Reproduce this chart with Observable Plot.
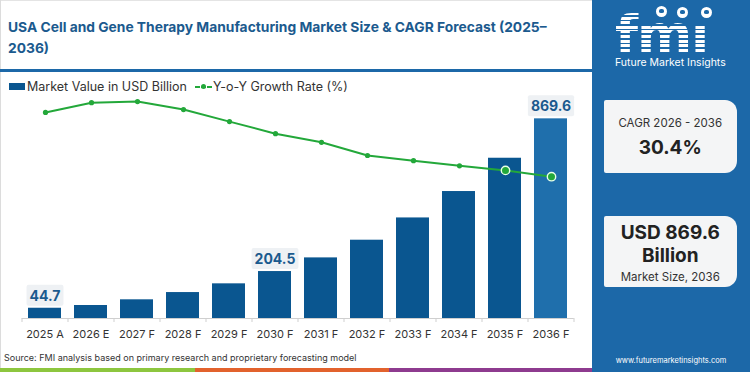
<!DOCTYPE html>
<html>
<head>
<meta charset="utf-8">
<script src="https://cdn.jsdelivr.net/npm/d3@7"></script>
<script src="https://cdn.jsdelivr.net/npm/@observablehq/plot@0.6"></script>
<style>
  @font-face { font-family: "FmiLogo"; src: local("DejaVu Sans Bold"), local("DejaVuSans-Bold"); font-weight: 700;
               ascent-override: 78%; descent-override: 2%; line-gap-override: 0%; }
  html, body { margin: 0; padding: 0; background: #fff; }
  body { width: 750px; height: 372px; position: relative; overflow: hidden; font-family: Inter, "Open Sans", sans-serif; color: #333; }
  .abs { position: absolute; }
  #title { left: 8px; top: 17px; width: 580px; font-size: 13.8px; font-weight: 700; color: #1b5a8e; line-height: 21px; white-space: nowrap; }
  #sep { left: 0; top: 69px; width: 592px; height: 2.5px; background: #1c68a8; }
  #lborder { left: 0; top: 0; width: 1px; height: 368px; background: #dcdcdc; }
  #tborder { left: 0; top: 0; width: 592px; height: 1px; background: #e4e4e4; }
  #legend { left: 9px; top: 79px; font-size: 12.5px; color: #333; display: flex; align-items: center; white-space: nowrap; }
  .sw { width: 16px; height: 7px; background: #0a5690; margin-right: 2px; }
  .ln { position: relative; width: 17px; height: 10px; margin-left: 8px; margin-right: 1px; }
  .ln:before { content: ""; position: absolute; left: 0; right: 0; top: 4px; height: 2px; background: repeating-linear-gradient(to right, #23a83a 0 5px, transparent 5px 6px); }
  .ln:after { content: ""; position: absolute; left: 6px; top: 2.5px; width: 5px; height: 5px; border-radius: 50%; background: #23a83a; }
  #chart, #line { left: 0; top: 75px; }
  #source { left: 4px; top: 352px; font-size: 9px; color: #333; white-space: nowrap; }
  .stripe { top: 368px; height: 4px; }
  #panel { left: 592px; top: 0; width: 158px; height: 372px; background: #1c68a8; }
  .box { position: absolute; left: 11.5px; width: 133.5px; background: #f4f5f6; border-radius: 2px 12px 12px 2px; text-align: center; color: #222; }
  #logo { left: 23px; top: 12px; font-family: "FmiLogo", "DejaVu Sans", sans-serif; font-weight: 700; font-size: 52.6px; line-height: normal; letter-spacing: -1px; white-space: nowrap;
          background: repeating-linear-gradient(to bottom, #fff 0 3px, transparent 3px 4.6px); -webkit-background-clip: text; background-clip: text; color: transparent; }
  .globe { position: absolute; width: 11px; height: 11px; border-radius: 50%; background: #fff; }
  .globe:after { content: ""; position: absolute; left: 3px; top: 3px; width: 5px; height: 4px; border-radius: 40%; background: #1c68a8; }
  #fmiName { left: 23px; top: 56px; font-size: 10.5px; color: #fff; white-space: nowrap; }
  #web { left: 0; width: 158px; top: 356px; font-size: 7.5px; color: #fff; text-align: center; }
</style>
</head>
<body>
<div id="tborder" class="abs"></div>
<div id="lborder" class="abs"></div>
<div id="title" class="abs">USA Cell and Gene Therapy Manufacturing Market Size &amp; CAGR Forecast (2025–<br>2036)</div>
<div id="sep" class="abs"></div>
<div id="legend" class="abs"><div class="sw"></div><span>Market Value in USD Billion</span><div class="ln"></div><span>Y-o-Y Growth Rate (%)</span></div>
<div id="chart" class="abs"></div>
<div id="line" class="abs"></div>
<div id="source" class="abs">Source: FMI analysis based on primary research and proprietary forecasting model</div>
<div class="abs stripe" style="left:0;width:195px;background:#8dc63f"></div>
<div class="abs stripe" style="left:195px;width:194px;background:#e2622d"></div>
<div class="abs stripe" style="left:389px;width:203px;background:#8e3b8f"></div>
<div id="panel" class="abs">
  <div id="logo" class="abs">fmı</div>
  <div class="globe" style="left:64px;top:6px"></div>
  <div class="globe" style="left:85px;top:7px"></div>
  <div class="globe" style="left:109px;top:7px"></div>
  <div id="fmiName" class="abs">Future Market Insights</div>
  <div class="box" style="top:100px;height:73px">
    <div style="position:absolute;left:0;right:0;top:16px;font-size:11.5px;color:#333">CAGR 2026 - 2036</div>
    <div style="position:absolute;left:0;right:0;top:36px;font-size:19px;font-weight:700">30.4%</div>
  </div>
  <div class="box" style="top:216px;height:71px">
    <div style="position:absolute;left:0;right:0;top:5px;font-size:19px;font-weight:700;line-height:23px">USD 869.6<br>Billion</div>
    <div style="position:absolute;left:0;right:0;top:54px;font-size:11.5px;color:#333">Market Size, 2036</div>
  </div>
  <div id="web" class="abs">www.futuremarketinsights.com</div>
</div>

<script>
// ---- data ----
const years = ["2025 A","2026 E","2027 F","2028 F","2029 F","2030 F","2031 F","2032 F","2033 F","2034 F","2035 F","2036 F"];
const marketValue = [44.7, 56.6, 81.4, 113, 151, 204.5, 264, 341, 438, 553, 698, 869.6];
const growthRate = [35.9, 37.6, 37.8, 36.4, 34.3, 32.2, 30.7, 28.4, 27.5, 26.6, 25.8, 24.7];
const labeledYears = ["2025 A", "2030 F", "2036 F"];

const rows = years.map((y, i) => ({year: y, value: marketValue[i], growth: growthRate[i], i}));

// ---- layout ----
const W = 592, H = 275, ML = 21.7, MR = 18.3, MT = 13.4, MB = 32;
const dark = "#0a5690", light = "#1f6fac", green = "#23a83a";
const xOpts = {domain: years, paddingInner: 0.28, paddingOuter: 0.14, label: null};
const step = d3.scaleBand().domain(years).range([ML, W - MR]).paddingInner(0.28).paddingOuter(0.14).step();

const bars = Plot.plot({
  width: W, height: H, marginLeft: ML, marginRight: MR, marginTop: MT, marginBottom: MB,
  style: {background: "transparent", fontFamily: "Inter, sans-serif", overflow: "visible"},
  x: xOpts,
  y: {domain: [0, 1000], axis: null},
  marks: [
    Plot.barY(rows, {x: "year", y: "value", fill: d => d.year === "2036 F" ? light : dark}),
    Plot.ruleY([0], {stroke: "#cfcfcf"}),
    Plot.axisX({tickSize: 0, tickPadding: 12, fontSize: 11, fill: "#333"}),
    Plot.axisX({tickSize: 4, stroke: "#cfcfcf", dx: -step / 2, tickFormat: () => ""}),
    Plot.axisX({ticks: [years[years.length - 1]], tickSize: 4, stroke: "#cfcfcf", dx: step / 2, tickFormat: () => ""}),
    Plot.text(rows.filter(d => labeledYears.includes(d.year)), {
      x: "year", y: "value", text: d => d.value.toFixed(1), dy: -12,
      fontSize: 14, fontWeight: 700, fill: "#1b5a8e"
    })
  ]
});
document.getElementById("chart").appendChild(bars);

// background boxes behind value labels
d3.select(bars).selectAll('g[aria-label="text"]').each(function() {
  const g = this;
  d3.select(g).selectAll("text").each(function() {
    const b = this.getBBox();
    const t = this.getAttribute("transform");
    const r = document.createElementNS("http://www.w3.org/2000/svg", "rect");
    r.setAttribute("x", b.x - 3); r.setAttribute("y", b.y - 2);
    r.setAttribute("width", b.width + 6); r.setAttribute("height", b.height + 4);
    r.setAttribute("rx", 2); r.setAttribute("fill", "#eef1f4");
    if (t) r.setAttribute("transform", t);
    g.insertBefore(r, this);
  });
});

const line = Plot.plot({
  width: W, height: H, marginLeft: ML, marginRight: MR, marginTop: MT, marginBottom: MB,
  style: {background: "transparent", overflow: "visible"},
  x: {...xOpts, axis: null},
  y: {domain: [0, 40], axis: null},
  marks: [
    Plot.line(rows, {x: "year", y: "growth", stroke: green, strokeWidth: 2}),
    Plot.dot(rows.filter(d => d.i < 10), {x: "year", y: "growth", r: 2.6, fill: green}),
    Plot.dot(rows.filter(d => d.i >= 10), {x: "year", y: "growth", r: 4.2, fill: green, stroke: "#e8ffe8", strokeWidth: 1.4})
  ]
});
document.getElementById("line").appendChild(line);
</script>
</body>
</html>
